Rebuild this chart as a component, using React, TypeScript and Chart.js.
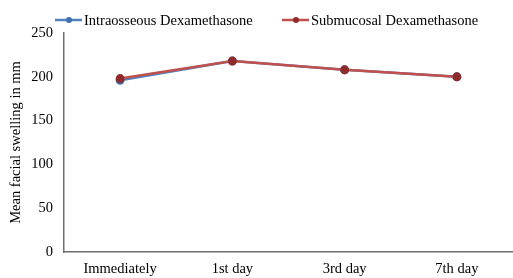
import React, { useEffect, useRef } from "react";
import { Chart, registerables } from "chart.js";

Chart.register(...registerables);

const categories = ["Immediately", "1st day", "3rd day", "7th day"];
const intraosseous = [196, 218, 208, 200];
const submucosal = [198, 218, 208, 200];
const seriesNames = ["Intraosseous Dexamethasone", "Submucosal Dexamethasone"];
const yTicks = [0, 50, 100, 150, 200, 250];

const FONT = "'Liberation Serif', 'Times New Roman', serif";
const FS = 14.5;
const BLUE = "#4f81bd";
const RED = "#c0504d";

const legendPlugin = {
  id: "customLegend",
  afterDraw(chart: any) {
    const ctx = chart.ctx;
    const items = [
      { name: seriesNames[0], color: BLUE, dot: "#3f6fae", x: 55 },
      { name: seriesNames[1], color: RED, dot: "#8e2b2b", x: 282 },
    ];
    ctx.save();
    ctx.font = FS + "px " + FONT;
    ctx.textBaseline = "middle";
    for (const it of items) {
      const y = 20;
      ctx.strokeStyle = it.color;
      ctx.lineWidth = 2.5;
      ctx.beginPath();
      ctx.moveTo(it.x, y);
      ctx.lineTo(it.x + 27, y);
      ctx.stroke();
      ctx.fillStyle = it.dot;
      ctx.beginPath();
      ctx.arc(it.x + 14, y, 3, 0, Math.PI * 2);
      ctx.fill();
      ctx.fillStyle = "#000";
      ctx.fillText(it.name, it.x + 29, y + 1);
    }
    ctx.restore();
  },
};

export default function App() {
  const ref = useRef<HTMLCanvasElement>(null);
  useEffect(() => {
    if (!ref.current) return;
    const chart = new Chart(ref.current, {
      type: "line",
      data: {
        labels: categories,
        datasets: [
          {
            label: seriesNames[1],
            data: submucosal,
            borderColor: RED,
            backgroundColor: "#8e2b2b",
            pointBackgroundColor: "#8e2b2b",
            pointBorderColor: "#8e2b2b",
            borderWidth: 2.5,
            pointRadius: 3.2,
            tension: 0,
            order: 1,
          },
          {
            label: seriesNames[0],
            data: intraosseous,
            borderColor: BLUE,
            backgroundColor: "#3f6fae",
            pointBackgroundColor: "#3f6fae",
            pointBorderColor: "#3f6fae",
            borderWidth: 2.5,
            pointRadius: 3.2,
            tension: 0,
            order: 2,
          },
        ],
      },
      options: {
        animation: false,
        responsive: false,
        maintainAspectRatio: false,
        layout: { autoPadding: false, padding: { top: 33, right: -8, left: 0, bottom: 0 } },
        plugins: { legend: { display: false }, tooltip: { enabled: false } },
        scales: {
          x: {
            offset: true,
            grid: { display: false, drawTicks: false },
            border: { display: true, color: "#6e6e6e", width: 1.5 },
            ticks: { color: "#000", font: { family: FONT, size: FS }, padding: 8 },
            afterFit(scale: any) {
              scale.height = 26;
              scale.paddingRight = -8;
              scale.paddingLeft = 0;
            },
          },
          y: {
            min: 0,
            max: 250,
            afterBuildTicks(scale: any) {
              scale.ticks = yTicks.map((v) => ({ value: v }));
            },
            grid: { display: false, drawTicks: false },
            border: { display: true, color: "#6e6e6e", width: 1.5 },
            ticks: { color: "#000", font: { family: FONT, size: FS }, padding: 11 },
            title: {
              display: true,
              text: "Mean facial swelling in mm",
              color: "#000",
              font: { family: FONT, size: FS },
              padding: { top: 7, bottom: 0 },
            },
            afterFit(scale: any) {
              scale.width = 64;
            },
          },
        },
      },
      plugins: [legendPlugin],
    });
    return () => chart.destroy();
  }, []);
  return (
    <div style={{ position: "fixed", left: 0, top: 0, width: 513, height: 278, background: "#fff" }}>
      <canvas ref={ref} width={513} height={278} style={{ width: 513, height: 278, display: "block" }} />
    </div>
  );
}
